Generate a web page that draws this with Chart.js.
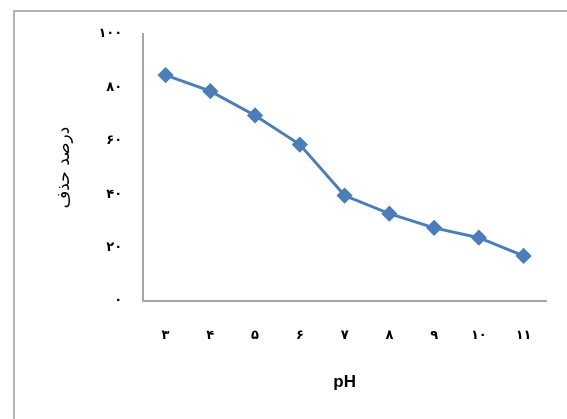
<!DOCTYPE html>
<html>
<head>
<meta charset="utf-8">
<script src="https://cdn.jsdelivr.net/npm/chart.js@4"></script>
<style>
  body { margin: 0; background: #fff; }
  #wrap { position: relative; width: 567px; height: 419px; overflow: hidden; }
  #frame { position: absolute; left: 13px; top: 10px; width: 620px; height: 500px; border: 2px solid #b4b4b4; box-sizing: border-box; }
  canvas { position: absolute; left: 0; top: 0; }
</style>
</head>
<body>
<div id="wrap">
  <div id="frame"></div>
  <canvas id="myChart" width="567" height="419"></canvas>
</div>
<script>
const ph = [3, 4, 5, 6, 7, 8, 9, 10, 11];
const xTickLabels = ['٣', '۴', '۵', '۶', '٧', '٨', '٩', '١٠', '١١'];
const removal = [84.6, 78.6, 69.5, 58.6, 39.5, 32.7, 27.4, 23.7, 16.9];
const yTickLabels = { 0: '٠', 20: '٢٠', 40: '۴٠', 60: '۶٠', 80: '٨٠', 100: '١٠٠' };

const ctx = document.getElementById('myChart');

new Chart(ctx, {
  type: 'line',
  data: {
    labels: ph,
    datasets: [{
      data: removal,
      borderColor: '#4a7ebb',
      backgroundColor: '#4a7ebb',
      borderWidth: 3,
      pointStyle: 'rectRot',
      pointRadius: 6,
      pointHoverRadius: 6,
      tension: 0
    }]
  },
  options: {
    responsive: false,
    animation: false,
    layout: {
      padding: { left: 51, top: 34, right: 21, bottom: 26 }
    },
    plugins: {
      legend: { display: false },
      tooltip: { enabled: false }
    },
    scales: {
      x: {
        offset: true,
        grid: { display: false },
        border: { display: true, color: '#a6a6a6', width: 2 },
        ticks: {
          padding: 19,
          color: '#000',
          font: { family: 'DejaVu Sans', size: 13, weight: 'bold' },
          callback: function (value, index) {
            return xTickLabels[index];
          }
        },
        title: {
          display: true,
          text: 'pH',
          color: '#000',
          font: { family: 'Liberation Sans', size: 17, weight: 'bold' },
          padding: { top: 10, bottom: 0 }
        }
      },
      y: {
        min: 0,
        max: 100,
        grid: { display: false },
        border: { display: true, color: '#a6a6a6', width: 2 },
        ticks: {
          stepSize: 20,
          padding: 13,
          color: '#000',
          font: { family: 'DejaVu Sans', size: 13, weight: 'bold' },
          callback: function (value) {
            return yTickLabels[value];
          }
        },
        title: {
          display: true,
          text: 'درصد حذف',
          color: '#000',
          font: { family: 'DejaVu Sans', size: 17 },
          padding: { top: 3, bottom: 11 }
        }
      }
    }
  }
});
</script>
</body>
</html>
